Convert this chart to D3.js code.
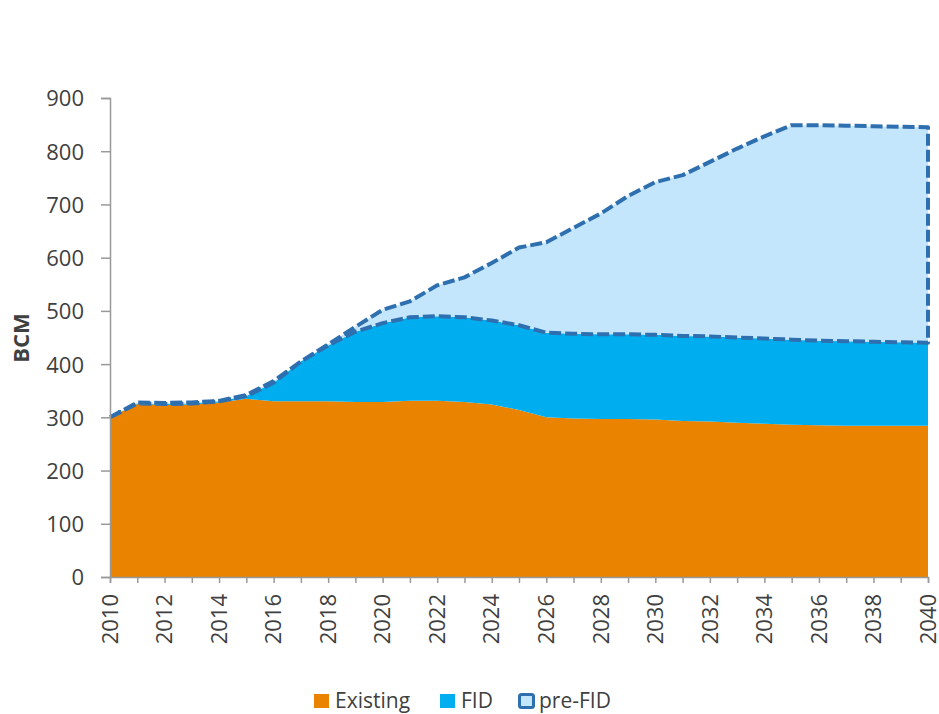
<!DOCTYPE html>
<html>
<head>
<meta charset="utf-8">
<script src="https://cdn.jsdelivr.net/npm/d3@7"></script>
<style>
  body { margin: 0; background: #fff; }
  text { font-family: "Open Sans", "DejaVu Sans", sans-serif; fill: #404040; }
</style>
</head>
<body>
<div id="container"></div>
<script>
/* ---------------- DATA ---------------- */
const years = d3.range(2010, 2041);

// BCM per category (stacked on top of each other)
const existing = [300, 325, 323, 324, 328, 335, 330, 330, 330, 329, 329, 331, 331, 329, 324, 314,
                  300, 298, 297, 297, 296, 293, 292, 290, 288, 286, 285, 284, 284, 284, 284];
const fid      = [0, 1, 2, 2, 2, 5, 35, 75, 105, 132, 148, 157, 159, 159, 158, 159,
                  159, 159, 159, 159, 159, 160, 160, 160, 160, 160, 159, 159, 158, 157, 156];
const preFid   = [0, 2, 2, 2, 1, 2, 3, 0, 2, 9, 25, 30, 58, 75, 108, 146,
                  170, 199, 227, 260, 287, 302, 328, 355, 380, 403, 405, 405, 405, 405, 405];

const seriesNames = ["Existing", "FID", "pre-FID"];
const yTicks = [0, 100, 200, 300, 400, 500, 600, 700, 800, 900];
const xLabelYears = years.filter(y => y % 2 === 0);

/* ---------------- SETUP ---------------- */
const w = 939, h = 714;
const m = { left: 110, right: 11, top: 98, bottom: 137 };

const rows = years.map((yr, i) => ({
  year: yr,
  "Existing": existing[i],
  "FID": fid[i],
  "pre-FID": preFid[i]
}));

const stacked = d3.stack().keys(seriesNames)(rows);

const color = d3.scaleOrdinal()
  .domain(seriesNames)
  .range(["#E98300", "#00AEEF", "#C4E6FC"]);

const svg = d3.select("#container").append("svg")
  .attr("width", w)
  .attr("height", h);

const x = d3.scaleLinear()
  .domain([2010, 2040])
  .range([m.left, w - m.right]);

const y = d3.scaleLinear()
  .domain([0, 900])
  .range([h - m.bottom, m.top]);

/* ---------------- AREAS ---------------- */
const area = d3.area()
  .x(d => x(d.data.year))
  .y0(d => y(d[0]))
  .y1(d => y(d[1]));

svg.append("g")
  .selectAll("path")
  .data(stacked)
  .enter()
  .append("path")
  .attr("d", area)
  .attr("fill", d => color(d.key));

// dashed outline around the pre-FID band (top, right edge, bottom)
const pre = stacked[2];
const outline = pre.map(d => [x(d.data.year), y(d[1])])
  .concat(pre.slice().reverse().map(d => [x(d.data.year), y(d[0])]));

svg.append("path")
  .attr("d", d3.line()(outline))
  .attr("fill", "none")
  .attr("stroke", "#2E6FB0")
  .attr("stroke-width", 4)
  .attr("stroke-dasharray", "12,4")
  .attr("stroke-linejoin", "round");

/* ---------------- AXES ---------------- */
const axisColor = "#999999";

const gy = svg.append("g")
  .attr("transform", `translate(${m.left},0)`)
  .call(d3.axisLeft(y).tickValues(yTicks).tickSize(9).tickPadding(17));

const gx = svg.append("g")
  .attr("transform", `translate(0,${h - m.bottom})`)
  .call(d3.axisBottom(x).tickValues(years).tickSize(6).tickFormat(""));

[gy, gx].forEach(g => {
  g.select(".domain").attr("stroke", axisColor).attr("stroke-width", 1.5);
  g.selectAll(".tick line").attr("stroke", axisColor).attr("stroke-width", 1.5);
});

gy.selectAll(".tick text")
  .style("font-size", "22px")
  .attr("fill", "#404040")
  .attr("dy", "0.36em");

// rotated year labels
svg.append("g")
  .selectAll("text")
  .data(xLabelYears)
  .enter()
  .append("text")
  .attr("transform", d => `translate(${x(d)},${h - m.bottom + 17}) rotate(-90)`)
  .attr("dy", "0.35em")
  .attr("text-anchor", "end")
  .style("font-size", "22px")
  .text(d => d);

svg.append("text")
  .attr("transform", "rotate(-90)")
  .attr("x", -338)
  .attr("y", 29)
  .attr("text-anchor", "middle")
  .style("font-size", "22px")
  .style("font-weight", "bold")
  .text("BCM");

/* ---------------- LEGEND ---------------- */
const legendX = [314, 440, 518];
const legend = svg.append("g");

seriesNames.forEach((name, i) => {
  const gx0 = legendX[i];
  if (name === "pre-FID") {
    legend.append("rect")
      .attr("x", gx0 + 1.5).attr("y", 694.5)
      .attr("width", 14).attr("height", 13)
      .attr("rx", 2)
      .attr("fill", color(name))
      .attr("stroke", "#2E6FB0")
      .attr("stroke-width", 3);
  } else {
    legend.append("rect")
      .attr("x", gx0).attr("y", 694)
      .attr("width", 15).attr("height", 14)
      .attr("fill", color(name));
  }
  legend.append("text")
    .attr("x", gx0 + 21)
    .attr("y", 708)
    .style("font-size", "21px")
    .text(name);
});
</script>
</body>
</html>
